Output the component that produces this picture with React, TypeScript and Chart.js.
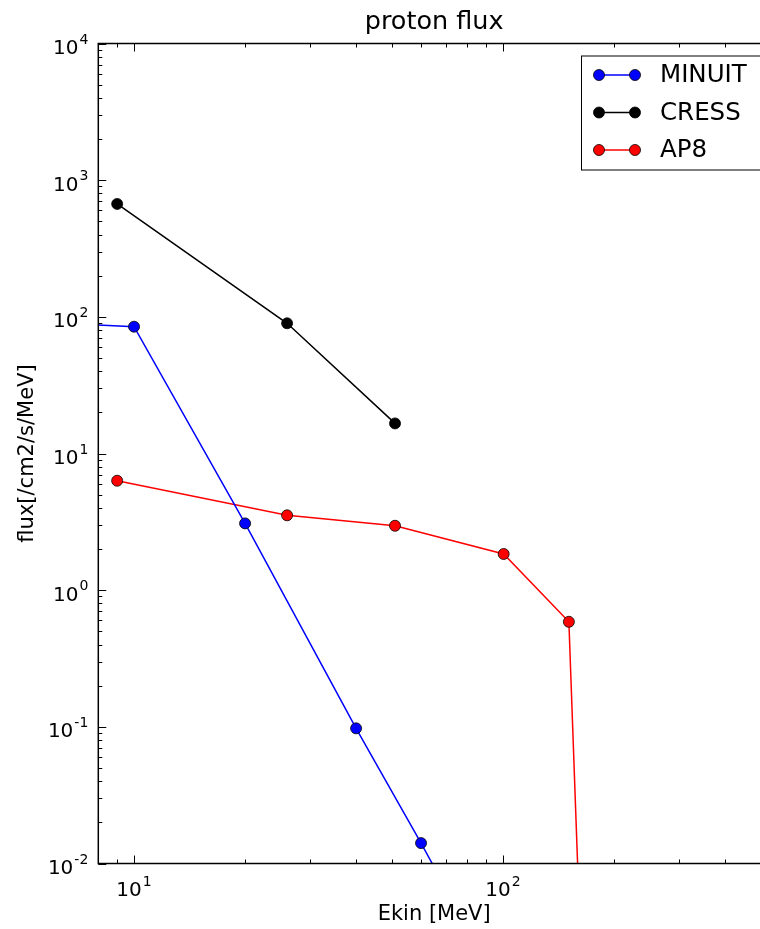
import { useEffect, useRef } from "react";
import { Chart, registerables } from "chart.js";

Chart.register(...registerables);

// Proton flux spectra (energy in MeV, flux in /cm2/s/MeV)
const minuitEnergy = [5, 10, 20, 40, 60, 80];
const minuitFlux = [92.5, 84.7, 3.08, 0.0975, 0.0141, 0.0034];
const cressEnergy = [9, 26, 51];
const cressFlux = [670, 89.7, 16.6];
const ap8Energy = [9, 26, 51, 100.5, 151, 200];
const ap8Flux = [6.32, 3.53, 2.96, 1.84, 0.587, 4.3e-10];

const xTickValues = [10, 100];
const yTickValues = [0.01, 0.1, 1, 10, 100, 1000, 10000];
const xRange = [8, 530];
const yRange = [0.01, 10000];

const TITLE = "proton flux";
const FONT = "DejaVu Sans";

// Draws "10" with a raised, smaller exponent, like a mathtext power label
function drawPower(ctx: CanvasRenderingContext2D, v: number, x: number, base: number, align: "right" | "center") {
  const exp = String(Math.round(Math.log10(v)));
  ctx.font = `20px "${FONT}"`;
  const w1 = ctx.measureText("10").width;
  ctx.font = `14px "${FONT}"`;
  const w2 = ctx.measureText(exp).width;
  const total = w1 + 1 + w2;
  const start = align === "right" ? x - total : x - total / 2;
  ctx.textAlign = "left";
  ctx.textBaseline = "alphabetic";
  ctx.font = `20px "${FONT}"`;
  ctx.fillText("10", start, base);
  ctx.font = `14px "${FONT}"`;
  ctx.fillText(exp, start + w1 + 1, base - 10.5);
}

// Inward ticks (major + minor) on every side, the axes frame, tick labels and title
const framePlugin = {
  id: "frame",
  afterDatasetsDraw(chart: any) {
    const { ctx, chartArea: a, scales } = chart;
    const xs = scales.x;
    const ys = scales.y;
    ctx.save();
    ctx.strokeStyle = "#000";
    ctx.lineWidth = 1;
    const decades = (lo: number, hi: number) => {
      const out: { v: number; major: boolean }[] = [];
      for (let e = Math.floor(Math.log10(lo)); e <= Math.ceil(Math.log10(hi)); e++) {
        for (let m = 1; m <= 9; m++) {
          const v = m * Math.pow(10, e);
          if (v >= lo * 0.9999 && v <= hi * 1.0001) out.push({ v, major: m === 1 });
        }
      }
      return out;
    };
    ctx.beginPath();
    for (const t of decades(xs.min, xs.max)) {
      const px = Math.round(xs.getPixelForValue(t.v)) + 0.5;
      const len = t.major ? 8 : 4;
      ctx.moveTo(px, a.bottom);
      ctx.lineTo(px, a.bottom - len);
      ctx.moveTo(px, a.top);
      ctx.lineTo(px, a.top + len);
    }
    for (const t of decades(ys.min, ys.max)) {
      const py = Math.round(ys.getPixelForValue(t.v)) + 0.5;
      const len = t.major ? 8 : 4;
      ctx.moveTo(a.left, py);
      ctx.lineTo(a.left + len, py);
      ctx.moveTo(a.right, py);
      ctx.lineTo(a.right - len, py);
    }
    ctx.stroke();
    ctx.lineWidth = 1.5;
    ctx.strokeRect(a.left, a.top, a.right - a.left, a.bottom - a.top);

    ctx.fillStyle = "#000";
    for (const t of xs.ticks) {
      drawPower(ctx, t.value, xs.getPixelForValue(t.value), a.bottom + 32.5, "center");
    }
    for (const t of ys.ticks) {
      drawPower(ctx, t.value, a.left - 10, ys.getPixelForValue(t.value) + 10.5, "right");
    }

    // title centred over the plot area
    ctx.font = `25.5px "${FONT}"`;
    ctx.textAlign = "center";
    ctx.textBaseline = "middle";
    ctx.fillText(TITLE, (a.left + a.right) / 2, a.top - 21);
    ctx.restore();
  },
};

// Boxed legend in the upper right of the plot area
const legendPlugin = {
  id: "boxLegend",
  afterDraw(chart: any) {
    const { ctx, chartArea: a } = chart;
    const left = a.right - 189;
    const top = a.top + 12;
    ctx.save();
    ctx.fillStyle = "#fff";
    ctx.fillRect(left, top, 220, 114);
    ctx.strokeStyle = "#000";
    ctx.lineWidth = 1;
    ctx.strokeRect(left + 0.5, top + 0.5, 220, 114);
    chart.data.datasets.forEach((ds: any, i: number) => {
      const y = top + 19.5 + i * 37.5;
      ctx.strokeStyle = ds.borderColor;
      ctx.lineWidth = 1.5;
      ctx.beginPath();
      ctx.moveTo(left + 18, y);
      ctx.lineTo(left + 54, y);
      ctx.stroke();
      for (const mx of [left + 18, left + 54]) {
        ctx.beginPath();
        ctx.arc(mx, y, 5.5, 0, Math.PI * 2);
        ctx.fillStyle = ds.pointBackgroundColor;
        ctx.fill();
        ctx.lineWidth = 0.8;
        ctx.strokeStyle = "#000";
        ctx.stroke();
      }
      ctx.fillStyle = "#000";
      ctx.font = `24.5px "${FONT}"`;
      ctx.textBaseline = "middle";
      ctx.textAlign = "left";
      ctx.fillText(ds.label, left + 79, y + 1);
    });
    ctx.restore();
  },
};

function series(label: string, color: string, xs: number[], ys: number[]) {
  return {
    label,
    data: xs.map((x, i) => ({ x, y: ys[i] })),
    borderColor: color,
    backgroundColor: color,
    pointBackgroundColor: color,
    pointBorderColor: "#000",
    pointBorderWidth: 0.8,
    pointRadius: 5.5,
    borderWidth: 1.5,
    tension: 0,
    showLine: true,
  };
}

export default function App() {
  const canvasRef = useRef<HTMLCanvasElement | null>(null);

  useEffect(() => {
    const canvas = canvasRef.current;
    if (!canvas) return;
    const chart = new Chart(canvas, {
      type: "line",
      data: {
        datasets: [
          series("MINUIT", "#0000ff", minuitEnergy, minuitFlux),
          series("CRESS", "#000000", cressEnergy, cressFlux),
          series("AP8", "#ff0000", ap8Energy, ap8Flux),
        ],
      },
      options: {
        responsive: false,
        animation: false,
        devicePixelRatio: 1,
        layout: { padding: { left: 0, right: 20, top: 43.5, bottom: 0 } },
        plugins: {
          legend: { display: false },
          tooltip: { enabled: false },
          title: { display: false },
        },
        scales: {
          x: {
            type: "logarithmic",
            min: xRange[0],
            max: xRange[1],
            grid: { display: false },
            border: { display: false },
            afterBuildTicks: (s: any) => {
              s.ticks = xTickValues.map((v) => ({ value: v }));
            },
            afterFit: (s: any) => {
              s.height = 65.5;
            },
            ticks: { display: false, autoSkip: false },
            title: {
              display: true,
              text: "Ekin [MeV]",
              color: "#000",
              font: { family: FONT, size: 21 },
              padding: { top: 0, bottom: 2 },
            },
          },
          y: {
            type: "logarithmic",
            min: yRange[0],
            max: yRange[1],
            grid: { display: false },
            border: { display: false },
            afterBuildTicks: (s: any) => {
              s.ticks = yTickValues.map((v) => ({ value: v }));
            },
            afterFit: (s: any) => {
              s.width = 98.3;
            },
            ticks: { display: false, autoSkip: false },
            title: {
              display: true,
              text: "flux[/cm2/s/MeV]",
              color: "#000",
              font: { family: FONT, size: 21 },
              padding: { top: 15, bottom: 0 },
            },
          },
        },
      },
      plugins: [framePlugin, legendPlugin],
    } as any);
    return () => chart.destroy();
  }, []);

  return (
    <div
      style={{
        position: "fixed",
        left: 0,
        top: 0,
        width: 760,
        height: 929,
        overflow: "hidden",
        background: "#fff",
      }}
    >
      <canvas ref={canvasRef} width={790} height={929} style={{ display: "block" }} />
    </div>
  );
}
